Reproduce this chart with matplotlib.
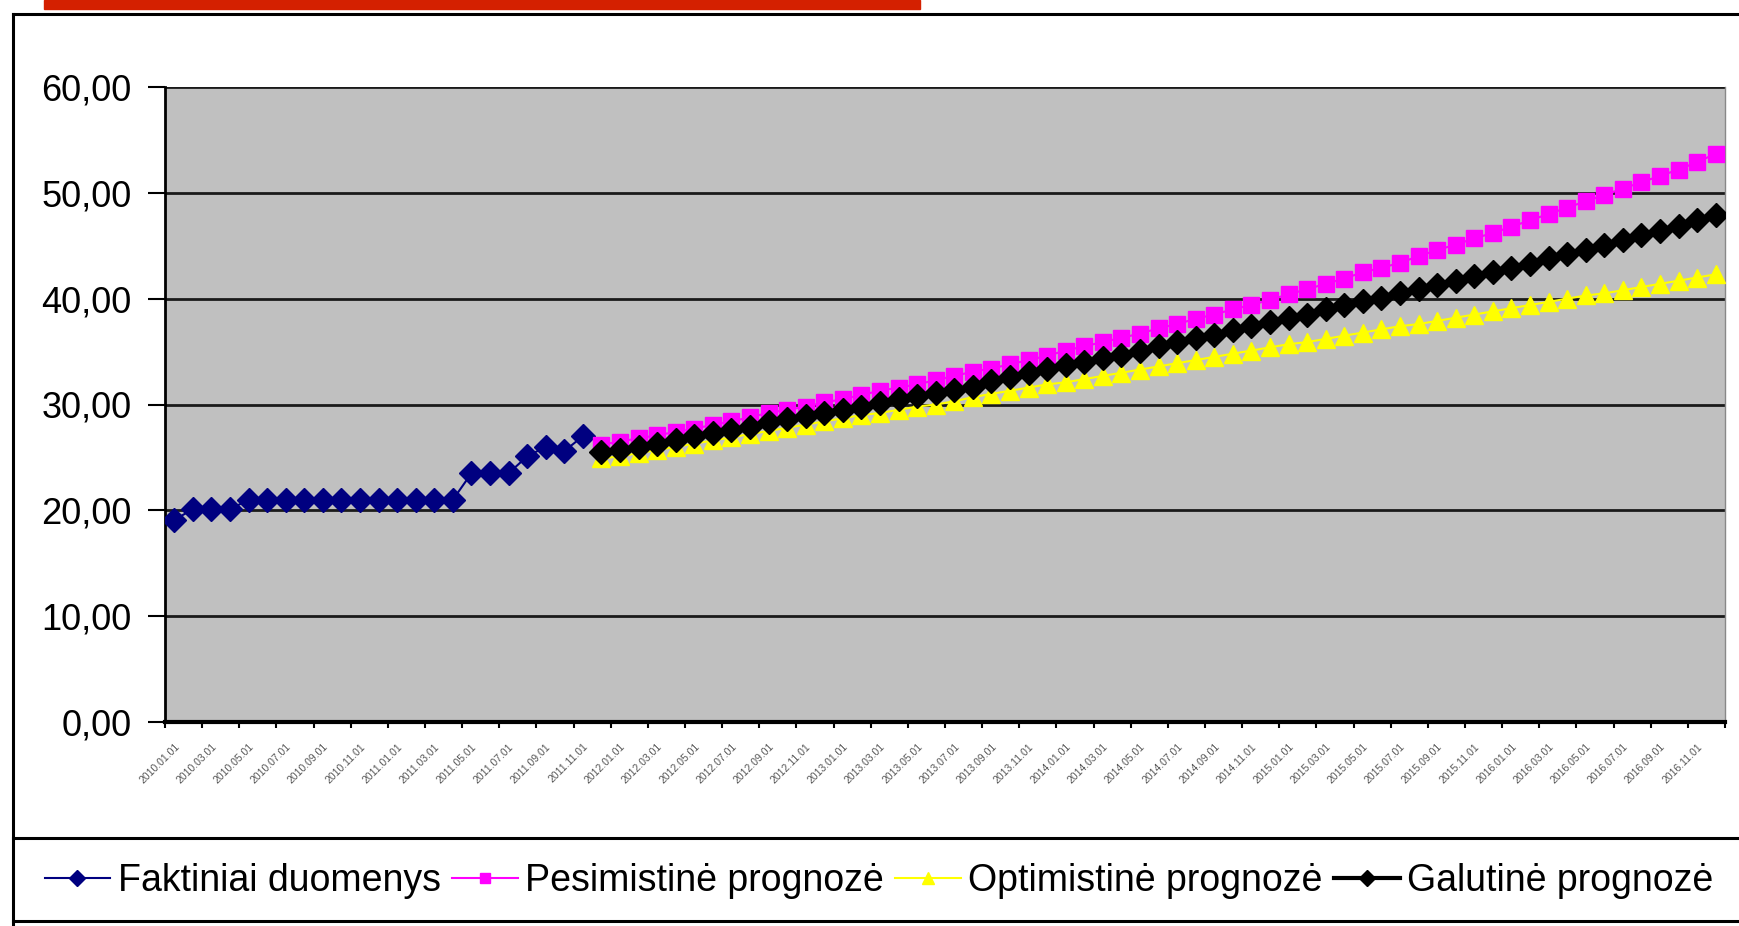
import numpy as np
import matplotlib
matplotlib.use("Agg")
from matplotlib import pyplot as plt
from matplotlib.patches import Rectangle
from matplotlib.lines import Line2D

plt.rcParams['font.family'] = ['Liberation Sans', 'DejaVu Sans']

# categories: one per month, 2010.01 .. 2016.12
categories = [f"{y}.{m:02d}.01" for y in range(2010, 2017) for m in range(1, 13)]

# actual data, 2010.01 .. 2011.11
faktiniai = [19.1, 20.1, 20.1, 20.1, 21.0, 21.0, 21.0, 21.0, 21.0, 21.0, 21.0, 21.0,
             21.0, 21.0, 21.0, 21.0, 23.5, 23.5, 23.5, 25.1, 26.0, 25.6, 27.0]

# forecasts, 2011.12 .. 2016.12
pesimistine = [26.2, 26.5, 26.8, 27.1, 27.4, 27.7, 28.1, 28.4, 28.8, 29.2,
               29.5, 29.8, 30.2, 30.5, 30.9, 31.3, 31.6, 31.9, 32.3, 32.7,
               33.1, 33.4, 33.8, 34.2, 34.6, 35.1, 35.5, 35.9, 36.3, 36.7,
               37.2, 37.6, 38.1, 38.5, 39.0, 39.4, 39.9, 40.4, 40.9, 41.4, 41.9,
               42.5, 42.9, 43.4, 44.0, 44.6, 45.1, 45.7, 46.2, 46.8, 47.4,
               48.0, 48.6, 49.2, 49.8, 50.4, 51.0, 51.6, 52.2, 52.9, 53.7]
optimistine = [24.9, 25.1, 25.4, 25.7, 26.0, 26.3, 26.6, 26.9, 27.2, 27.5,
               27.8, 28.1, 28.4, 28.7, 29.0, 29.2, 29.5, 29.8, 30.0, 30.3,
               30.7, 31.0, 31.3, 31.6, 31.9, 32.1, 32.4, 32.7, 33.0, 33.3,
               33.6, 33.9, 34.2, 34.5, 34.8, 35.1, 35.4, 35.7, 35.9, 36.2, 36.5,
               36.8, 37.1, 37.4, 37.6, 37.9, 38.2, 38.5, 38.8, 39.1, 39.4,
               39.7, 40.0, 40.3, 40.5, 40.8, 41.1, 41.4, 41.7, 42.0, 42.3]
galutine = [25.5, 25.7, 26.0, 26.3, 26.6, 27.0, 27.3, 27.6, 27.9, 28.3,
            28.6, 28.9, 29.2, 29.5, 29.8, 30.1, 30.5, 30.8, 31.1, 31.4,
            31.7, 32.2, 32.6, 33.0, 33.4, 33.7, 34.0, 34.4, 34.7, 35.1,
            35.5, 35.9, 36.3, 36.6, 37.0, 37.4, 37.8, 38.2, 38.5, 39.0, 39.4,
            39.8, 40.1, 40.5, 40.9, 41.3, 41.7, 42.1, 42.5, 42.9, 43.3,
            43.8, 44.2, 44.6, 45.1, 45.5, 46.0, 46.4, 46.9, 47.4, 47.9]

labels = ["Faktiniai duomenys", "Pesimistinė prognozė", "Optimistinė prognozė", "Galutinė prognozė"]

W, H = 1740, 926
fig = plt.figure(figsize=(W / 100, H / 100), dpi=100)

# slide decorations: red bar and chart frame
fig.patches.append(Rectangle((44 / W, 1 - 9 / H), (920 - 44) / W, 9 / H,
                             transform=fig.transFigure, color='#d42000', zorder=0))
fig.lines.append(Line2D([13 / W, 1], [1 - 14 / H, 1 - 14 / H], transform=fig.transFigure,
                        color='black', lw=2.2))
fig.lines.append(Line2D([13 / W, 13 / W], [0, 1 - 14 / H], transform=fig.transFigure,
                        color='black', lw=2.2))
fig.lines.append(Line2D([13 / W, 1], [1 - 838 / H, 1 - 838 / H], transform=fig.transFigure,
                        color='black', lw=2.2))
fig.lines.append(Line2D([13 / W, 1], [1 - 921 / H, 1 - 921 / H], transform=fig.transFigure,
                        color='black', lw=2.2))

ax = fig.add_axes([165 / W, 1 - 722 / H, (1725 - 165) / W, (722 - 87) / H])
ax.set_facecolor('#c0c0c0')

n_act = len(faktiniai)
x_act = np.arange(n_act)
x_fc = np.arange(n_act, n_act + len(galutine))

h1, = ax.plot(x_act, faktiniai, color='#000080', lw=1.5, marker='D', ms=12, zorder=3)
h2, = ax.plot(x_fc, pesimistine, color='#ff00ff', lw=1.5, marker='s', ms=11.5, zorder=3)
h3, = ax.plot(x_fc, optimistine, color='#ffff00', lw=1.5, marker='^', ms=13, zorder=4)
h4, = ax.plot(x_fc, galutine, color='black', lw=3, marker='D', ms=12, zorder=5)

ax.set_xlim(-0.5, len(categories) - 0.5)
ax.set_ylim(0, 60)
yt = np.arange(0, 61, 10)
ax.set_yticks(yt)
ax.set_yticklabels([f"{v:.2f}".replace('.', ',') for v in yt])
ax.tick_params(axis='y', length=12, width=1.5, pad=12, labelsize=26, direction='out')
ax.yaxis.grid(True, color='#1a1a1a', lw=2)
ax.set_axisbelow(True)

# category labels every 2 months, tick marks on category boundaries
ax.set_xticks(np.arange(0, len(categories), 2))
ax.set_xticklabels(categories[::2], rotation=45, ha='right', rotation_mode='anchor',
                   fontsize=7.5, color='#555555')
ax.set_xticks(np.arange(-0.5, len(categories), 2), minor=True)
ax.tick_params(axis='x', which='major', length=0, pad=14)
ax.tick_params(axis='x', which='minor', length=4, width=1.5, direction='out')

ax.spines['left'].set_linewidth(2)
ax.spines['bottom'].set_linewidth(3)
ax.spines['top'].set_visible(False)
ax.spines['right'].set_color('#888888')
ax.spines['right'].set_linewidth(1)

fig.legend([h1, h2, h3, h4], labels, loc='center', bbox_to_anchor=(879 / W, 1 - 881 / H),
           ncol=4, frameon=False, fontsize=27, handlelength=1.75, handletextpad=0.2,
           columnspacing=0.3, markerscale=0.65)

fig.savefig('out.png', dpi=100, facecolor='white')
